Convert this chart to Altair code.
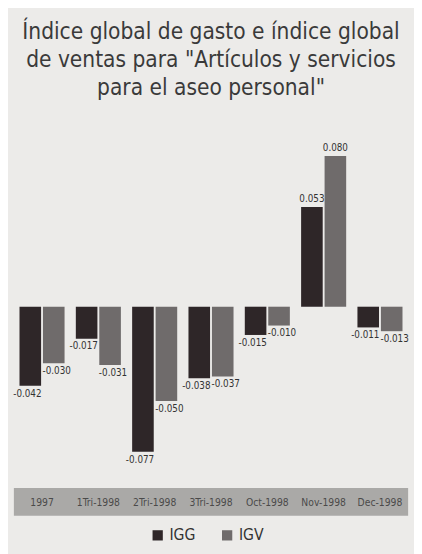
import altair as alt
import pandas as pd

categories = ["1997", "1Tri-1998", "2Tri-1998", "3Tri-1998", "Oct-1998", "Nov-1998", "Dec-1998"]
igg = [-0.042, -0.017, -0.077, -0.038, -0.015, 0.053, -0.011]
igv = [-0.030, -0.031, -0.050, -0.037, -0.010, 0.080, -0.013]
series = ["IGG", "IGV"]
colors = ["#2e2628", "#6f6b6b"]

rows = []
for c, a, b in zip(categories, igg, igv):
    rows.append({"cat": c, "serie": "IGG", "val": a, "lab": f"{a:.3f}"})
    rows.append({"cat": c, "serie": "IGV", "val": b, "lab": f"{b:.3f}"})
df = pd.DataFrame(rows)

FONT = "Liberation Sans Narrow, DejaVu Sans Condensed, Roboto Condensed, Arial Narrow, sans-serif"

Y_DOMAIN = [-0.111, 0.0874]
band_df = pd.DataFrame({"y1": [-0.0963], "y2": [-0.111]})

x = alt.X("cat:N", sort=categories, title=None,
          scale=alt.Scale(paddingInner=0.2, paddingOuter=0.1),
          axis=alt.Axis(labelAngle=0, ticks=False, domain=False, zindex=2,
                        labelBaseline="middle", labelPadding=-14,
                        labelColor="#4a4a4a", labelFontSize=10.5, labelFont=FONT, grid=False))
xo = alt.XOffset("serie:N", sort=series, scale=alt.Scale(paddingInner=0.08))
y = alt.Y("val:Q", scale=alt.Scale(domain=Y_DOMAIN), axis=None)

band = alt.Chart(band_df).mark_rect(color="#aaa9a7").encode(
    x=alt.value(0), x2=alt.value(403),
    y=alt.Y("y1:Q", scale=alt.Scale(domain=Y_DOMAIN), axis=None), y2="y2:Q")

base = alt.Chart(df)
bars = base.mark_bar(strokeWidth=0).encode(
    x=x, xOffset=xo, y=y,
    color=alt.Color("serie:N", sort=series, scale=alt.Scale(domain=series, range=colors),
                    legend=alt.Legend(title=None, orient="none", legendX=139, legendY=394,
                                      direction="horizontal",
                                      symbolType="square", symbolSize=110, labelFontSize=16,
                                      labelFont=FONT, labelColor="#333333", columnPadding=24,
                                      symbolStrokeWidth=0)),
)

def lab_layer(cond, s, baseline, dy, dx):
    return base.transform_filter(cond).transform_filter(f"datum.serie == '{s}'").mark_text(
        baseline=baseline, dy=dy, dx=dx, fontSize=10, font=FONT, color="#333333").encode(
        x=x, xOffset=xo, y=y, text="lab:N")

labels = [
    lab_layer("datum.val < 0", "IGG", "top", 3, -3),
    lab_layer("datum.val < 0", "IGV", "top", 3, 3),
    lab_layer("datum.val >= 0", "IGG", "bottom", -3, 0),
    lab_layer("datum.val >= 0", "IGV", "bottom", -3, 0),
]

chart = alt.layer(band, bars, *labels).properties(
    width=403, height=382,
    background="#ecebe9",
    padding={"top": 8, "left": 5, "right": 5, "bottom": 5},
    title=alt.TitleParams(
        ["Índice global de gasto e índice global",
         "de ventas para \"Artículos y servicios",
         "para el aseo personal\""],
        anchor="middle", fontSize=23, font=FONT, fontWeight="normal", color="#3a3a3a",
        lineHeight=28.5, offset=43),
).configure_view(stroke=None)

chart.save("out.html", embed_options={"renderer": "svg", "actions": False})
